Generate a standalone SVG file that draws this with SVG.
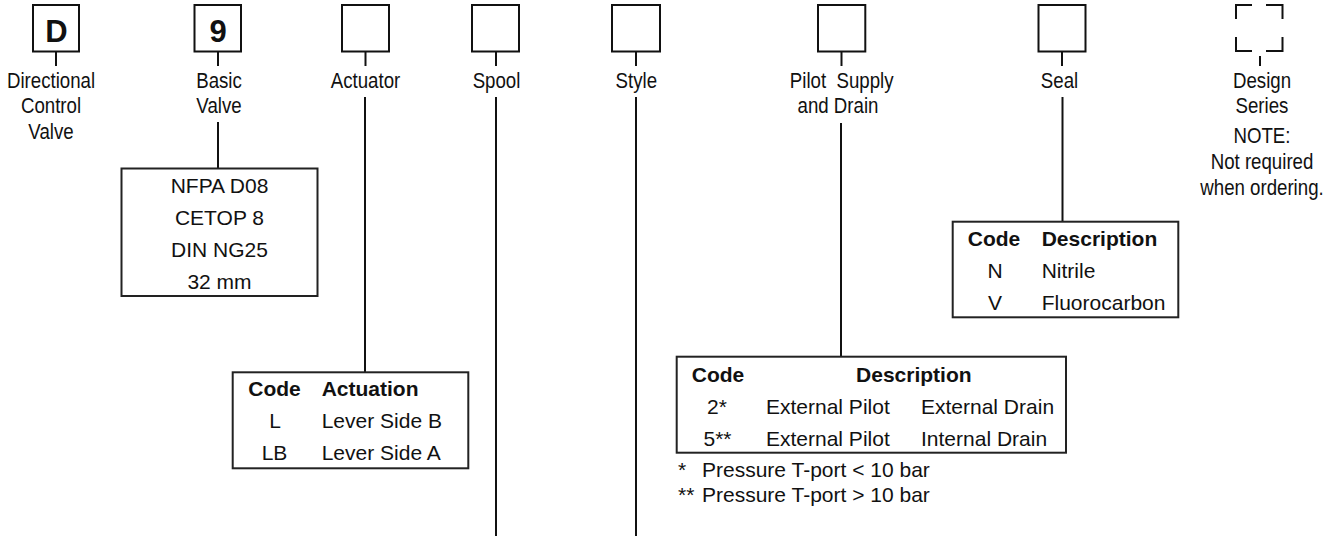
<svg xmlns="http://www.w3.org/2000/svg" width="1336" height="536" viewBox="0 0 1336 536">
<style>
  .bg{fill:#fff}
  .box{fill:#fff;stroke:#111;stroke-width:2}
  .tbl{fill:#fff;stroke:#222;stroke-width:2}
  .ln{stroke:#111;stroke-width:2;fill:none}
  .big{font-family:"Liberation Sans",Arial,sans-serif;font-weight:bold;font-size:31px;fill:#111;text-anchor:middle}
  .lbl{font-family:"Liberation Sans",Arial,sans-serif;font-size:22.5px;fill:#111;text-anchor:middle}
  .t{font-family:"Liberation Sans",Arial,sans-serif;font-size:21px;fill:#111}
  .b{font-weight:bold}
  .m{text-anchor:middle}
</style>
<rect class="bg" x="0" y="0" width="1336" height="536"/>

<g id="connectors">
  <line class="ln" x1="56" y1="52" x2="56" y2="66"/>
  <line class="ln" x1="218" y1="52" x2="218" y2="66"/>
  <line class="ln" x1="218" y1="122" x2="218" y2="168"/>
  <line class="ln" x1="365.5" y1="52" x2="365.5" y2="66"/>
  <line class="ln" x1="365" y1="97" x2="365" y2="372"/>
  <line class="ln" x1="496" y1="52" x2="496" y2="66"/>
  <line class="ln" x1="496" y1="97" x2="496" y2="536"/>
  <line class="ln" x1="636" y1="52" x2="636" y2="66"/>
  <line class="ln" x1="636" y1="97" x2="636" y2="536"/>
  <line class="ln" x1="841.5" y1="52" x2="841.5" y2="66"/>
  <line class="ln" x1="841" y1="123" x2="841" y2="357"/>
  <line class="ln" x1="1062" y1="52" x2="1062" y2="66"/>
  <line class="ln" x1="1062.5" y1="97" x2="1062.5" y2="222"/>
  <line class="ln" x1="1260" y1="56" x2="1260" y2="66"/>
</g>

<g id="node-D">
  <rect class="box" x="33" y="5" width="46" height="46.5"/>
  <text class="big" x="56.5" y="41.8">D</text>
  <g transform="translate(51,0) scale(0.83,1)">
    <text class="lbl" x="0" y="87.7">Directional</text>
    <text class="lbl" x="0" y="113.2">Control</text>
    <text class="lbl" x="0" y="139">Valve</text>
  </g>
</g>

<g id="node-9">
  <rect class="box" x="194.5" y="5" width="46.5" height="46.5"/>
  <text class="big" x="218" y="41.8">9</text>
  <g transform="translate(219,0) scale(0.83,1)">
    <text class="lbl" x="0" y="87.7">Basic</text>
    <text class="lbl" x="0" y="113.2">Valve</text>
  </g>
</g>

<g id="node-basic-table">
  <rect class="tbl" x="121.5" y="168.5" width="196" height="127.5"/>
  <text class="t m" x="219.5" y="193.3">NFPA D08</text>
  <text class="t m" x="219.5" y="225">CETOP 8</text>
  <text class="t m" x="219.5" y="257.3">DIN NG25</text>
  <text class="t m" x="219.5" y="289">32 mm</text>
</g>

<g id="node-actuator">
  <rect class="box" x="342" y="5" width="47" height="46.5"/>
  <g transform="translate(365.5,0) scale(0.83,1)">
    <text class="lbl" x="0" y="87.7">Actuator</text>
  </g>
</g>

<g id="node-actuator-table">
  <rect class="tbl" x="232.7" y="372.3" width="235.6" height="96"/>
  <text class="t b m" x="274.5" y="396">Code</text>
  <text class="t b" x="321.7" y="396">Actuation</text>
  <text class="t m" x="275" y="428.3">L</text>
  <text class="t" x="321.7" y="428.3">Lever Side B</text>
  <text class="t m" x="274.5" y="460">LB</text>
  <text class="t" x="321.7" y="460">Lever Side A</text>
</g>

<g id="node-spool">
  <rect class="box" x="472" y="5" width="47" height="46.5"/>
  <g transform="translate(496.5,0) scale(0.83,1)">
    <text class="lbl" x="0" y="87.7">Spool</text>
  </g>
</g>

<g id="node-style">
  <rect class="box" x="612" y="5" width="48" height="46.5"/>
  <g transform="translate(636.3,0) scale(0.83,1)">
    <text class="lbl" x="0" y="87.7">Style</text>
  </g>
</g>

<g id="node-pilot">
  <rect class="box" x="818" y="5" width="47.3" height="46.5"/>
  <g transform="translate(841.7,0) scale(0.83,1)">
    <text class="lbl" x="0" y="87.7" xml:space="preserve">Pilot  Supply</text>
    <text class="lbl" x="-4.5" y="113.2">and Drain</text>
  </g>
</g>

<g id="node-pilot-table">
  <rect class="tbl" x="676.7" y="356.7" width="389.3" height="96"/>
  <text class="t b m" x="718" y="381.7">Code</text>
  <text class="t b m" x="913.8" y="381.7">Description</text>
  <text class="t m" x="717" y="414">2*</text>
  <text class="t" x="766" y="414">External Pilot</text>
  <text class="t" x="921" y="414">External Drain</text>
  <text class="t m" x="717.5" y="445.5">5**</text>
  <text class="t" x="766" y="445.5">External Pilot</text>
  <text class="t" x="921" y="445.5">Internal Drain</text>
  <text class="t" x="678" y="476.7">*</text>
  <text class="t" x="702" y="476.7">Pressure T-port &lt; 10 bar</text>
  <text class="t" x="678" y="501.7">**</text>
  <text class="t" x="702" y="501.7">Pressure T-port &gt; 10 bar</text>
</g>

<g id="node-seal">
  <rect class="box" x="1038.5" y="5" width="47" height="46.5"/>
  <g transform="translate(1059.5,0) scale(0.83,1)">
    <text class="lbl" x="0" y="87.7">Seal</text>
  </g>
</g>

<g id="node-seal-table">
  <rect class="tbl" x="952.7" y="221.7" width="225.6" height="95.6"/>
  <text class="t b m" x="994" y="246">Code</text>
  <text class="t b" x="1041.7" y="246">Description</text>
  <text class="t m" x="995" y="278.3">N</text>
  <text class="t" x="1041.7" y="278.3">Nitrile</text>
  <text class="t m" x="995" y="310">V</text>
  <text class="t" x="1041.7" y="310">Fluorocarbon</text>
</g>

<g id="node-design-series">
  <path class="ln" d="M1252 5 H1236 V19 M1266 5 H1282.5 V19 M1236 37 V51 H1252 M1282.5 37 V51 H1266" stroke-width="3"/>
  <g transform="translate(1262,0) scale(0.83,1)">
    <text class="lbl" x="0" y="87.7">Design</text>
    <text class="lbl" x="0" y="113.2">Series</text>
    <text class="lbl" x="0" y="143">NOTE:</text>
    <text class="lbl" x="0" y="169.5">Not required</text>
    <text class="lbl" x="0" y="195">when ordering.</text>
  </g>
</g>
</svg>
